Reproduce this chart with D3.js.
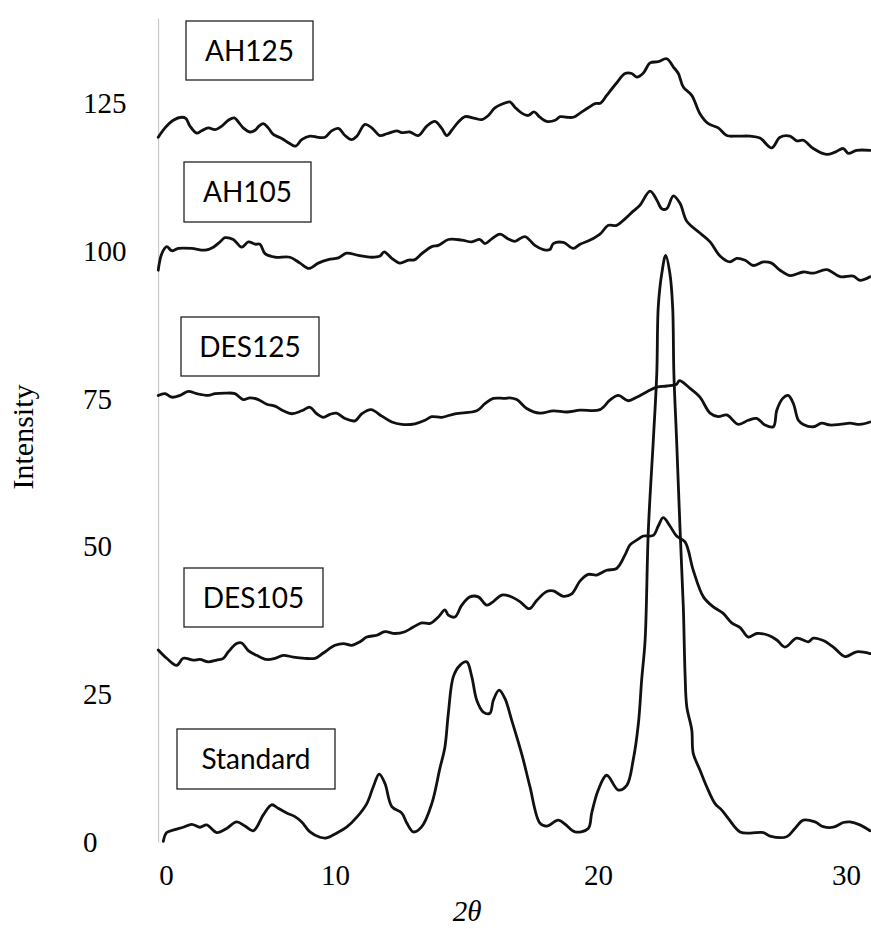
<!DOCTYPE html>
<html>
<head>
<meta charset="utf-8">
<script src="https://cdn.jsdelivr.net/npm/d3@7"></script>
<style>
  html, body { margin: 0; padding: 0; background: #fff; }
  svg { display: block; }
</style>
</head>
<body>
<svg id="chart" width="871" height="929"></svg>
<script>
// X-ray diffractograms, stacked with vertical offsets. Pairs are [2θ, intensity].
const standard = [
  [-0.16,0.1],[0.04,1.6],[0.53,2.1],[1.02,2.5],[1.52,3.0],[2.01,2.5],[2.41,2.9],[3.00,1.6],
  [3.59,2.3],[4.18,3.4],[4.67,2.7],[5.17,1.9],[5.76,4.6],[6.25,6.3],[6.64,5.7],[7.14,4.9],
  [7.63,4.3],[8.03,3.4],[8.52,1.7],[9.11,0.8],[9.51,0.7],[10.06,1.5],[10.44,2.5],[10.83,4.2],
  [11.21,6.5],[11.46,9.4],[11.68,11.5],[11.90,9.9],[12.16,6.0],[12.54,4.9],[12.73,3.2],[12.98,1.7],
  [13.30,2.6],[13.68,6.5],[13.99,12.5],[14.18,16.1],[14.31,21.8],[14.50,28.0],[14.75,29.9],[15.01,30.5],
  [15.20,28.0],[15.39,24.0],[15.64,22.0],[15.89,21.8],[16.02,24.0],[16.24,25.7],[16.46,24.3],[16.72,20.6],
  [16.91,17.8],[17.16,13.9],[17.41,9.4],[17.79,3.2],[18.05,2.7],[18.49,3.7],[18.75,3.0],[19.13,1.7],
  [19.63,2.3],[19.76,4.9],[20.01,8.8],[20.35,11.3],[20.82,8.8],[21.16,9.6],[21.42,13.9],[21.63,20.1],
  [21.76,27.4],[21.90,34.2],[22.03,52.8],[22.23,68.0],[22.37,79.3],[22.43,90.6],[22.57,96.2],[22.73,99.3],
  [22.90,96.2],[23.01,90.6],[23.06,79.3],[23.17,68.0],[23.31,52.8],[23.44,39.8],[23.51,28.5],[23.58,22.9],
  [23.78,19.0],[23.84,15.0],[24.11,12.2],[24.38,9.4],[24.72,6.5],[24.99,5.4],[25.25,4.0],[25.73,1.7],
  [26.13,1.5],[26.67,1.6],[26.94,1.0],[27.61,0.9],[27.94,2.3],[28.28,3.7],[28.75,3.4],[29.08,2.6],
  [29.49,2.5],[29.89,3.3],[30.16,3.4],[30.56,2.9],[30.97,1.9]
];

const des105 = [
  [-0.46,32.5],[0.04,31.1],[0.63,29.9],[1.02,31.1],[1.62,30.8],[2.01,30.9],[2.50,30.5],[3.00,30.8],
  [3.39,31.1],[3.69,32.2],[4.18,33.6],[4.48,33.7],[4.87,32.4],[5.37,31.6],[5.96,30.9],[6.45,31.1],
  [6.94,31.6],[7.53,31.3],[8.22,31.1],[8.82,31.1],[9.31,32.0],[10.00,33.3],[10.32,33.6],[10.63,33.3],
  [10.95,33.9],[11.21,34.7],[11.59,35.0],[11.90,35.6],[12.28,35.3],[12.66,35.6],[12.98,36.4],[13.30,37.1],
  [13.61,37.0],[13.93,38.1],[14.18,39.3],[14.31,38.4],[14.56,38.1],[14.82,40.1],[15.13,41.5],[15.45,41.5],
  [15.77,40.1],[16.02,40.7],[16.34,41.8],[16.65,41.6],[17.03,40.7],[17.39,39.5],[17.67,40.9],[18.05,42.4],
  [18.30,42.5],[18.68,41.6],[19.00,42.0],[19.32,44.2],[19.63,45.3],[19.95,45.2],[20.35,46.0],[20.75,46.3],
  [21.09,48.6],[21.29,50.3],[21.56,51.1],[21.83,51.8],[22.23,51.9],[22.43,53.5],[22.63,54.9],[22.90,53.5],
  [23.17,51.8],[23.51,50.8],[23.84,46.0],[24.25,41.5],[24.65,39.8],[25.05,38.7],[25.39,37.1],[25.73,36.3],
  [26.06,34.7],[26.40,35.3],[26.87,35.0],[27.21,34.2],[27.54,33.0],[28.01,34.5],[28.48,33.9],[28.68,34.5],
  [29.08,34.1],[29.49,33.0],[29.96,31.4],[30.43,32.2],[30.97,31.9]
];

const des125 = [
  [-0.46,75.6],[-0.06,75.9],[0.34,75.3],[0.83,75.6],[1.32,76.3],[1.82,75.9],[2.50,75.6],[2.90,75.9],
  [3.49,76.0],[4.08,75.9],[4.57,74.9],[4.97,75.2],[5.46,74.9],[5.96,74.1],[6.45,73.8],[6.94,73.0],
  [7.44,72.5],[8.03,73.0],[8.52,73.6],[8.92,72.5],[9.31,71.9],[9.70,72.4],[10.06,72.6],[10.38,71.7],
  [10.76,71.3],[11.02,72.5],[11.37,73.2],[11.78,72.1],[12.16,71.1],[12.54,70.7],[13.04,70.8],[13.42,71.4],
  [13.68,72.0],[14.06,71.9],[14.56,72.5],[15.39,73.0],[15.70,74.2],[16.02,75.1],[16.46,75.1],[16.65,75.2],
  [16.91,74.9],[17.29,73.4],[17.79,72.6],[18.30,73.0],[18.81,72.8],[19.32,73.1],[20.08,73.2],[20.48,74.8],
  [20.82,75.6],[21.22,74.7],[21.56,75.3],[21.96,76.2],[22.37,77.0],[22.77,77.2],[23.17,77.5],[23.28,78.1],
  [23.71,76.8],[24.11,75.3],[24.52,72.6],[24.85,72.0],[25.19,72.3],[25.66,70.7],[26.06,71.4],[26.40,71.7],
  [26.73,70.6],[27.07,70.3],[27.21,73.1],[27.45,75.1],[27.67,75.6],[27.88,74.2],[28.08,71.4],[28.28,70.7],
  [28.68,70.3],[29.02,70.9],[29.35,70.6],[29.76,70.7],[30.16,70.9],[30.56,70.7],[30.97,71.1]
];

const ah105 = [
  [-0.46,96.8],[-0.25,99.6],[0.04,100.8],[0.34,100.1],[0.73,100.5],[1.52,100.5],[2.31,100.2],[2.80,100.7],
  [3.20,101.6],[3.49,102.3],[3.98,102.0],[4.48,100.7],[4.87,101.6],[5.27,101.2],[5.56,101.2],[5.86,99.6],
  [6.45,99.0],[7.34,99.0],[7.93,98.0],[8.46,97.1],[9.01,98.0],[9.60,98.6],[10.13,98.9],[10.44,99.7],
  [10.89,99.3],[11.40,99.0],[11.71,99.2],[11.87,99.9],[12.16,98.8],[12.47,98.0],[12.79,98.5],[13.04,98.6],
  [13.30,99.6],[13.68,100.8],[13.93,101.0],[14.31,102.0],[14.82,101.9],[15.20,101.6],[15.51,102.0],[15.70,101.3],
  [15.96,102.1],[16.27,102.9],[16.59,102.1],[16.84,101.7],[17.22,102.5],[17.60,101.0],[17.92,100.3],[18.17,100.3],
  [18.30,101.3],[18.68,101.5],[19.06,100.5],[19.32,101.2],[19.70,101.9],[20.08,102.9],[20.42,104.4],[20.75,104.4],
  [21.09,105.5],[21.42,106.8],[21.69,107.8],[22.10,110.2],[22.37,108.7],[22.57,107.2],[22.77,107.2],[23.04,109.4],
  [23.31,108.1],[23.58,105.1],[24.11,103.1],[24.52,101.6],[24.92,99.2],[25.32,98.2],[25.59,98.8],[25.93,98.5],
  [26.26,97.6],[26.67,98.2],[27.00,98.0],[27.34,96.8],[27.74,95.9],[28.28,96.5],[28.68,96.3],[29.22,96.9],
  [29.76,95.7],[30.29,95.8],[30.56,95.1],[30.97,95.7]
];

const ah125 = [
  [-0.46,119.3],[-0.06,120.9],[0.43,122.2],[0.93,122.7],[1.17,122.5],[1.42,121.2],[1.82,120.0],[2.11,120.4],
  [2.50,120.9],[2.90,120.6],[3.30,121.2],[3.69,122.2],[4.04,122.6],[4.28,121.9],[4.57,120.9],[4.97,120.2],
  [5.27,120.5],[5.50,121.2],[5.76,121.6],[6.05,120.9],[6.35,119.8],[6.85,119.1],[7.34,118.2],[7.67,117.8],
  [8.03,118.9],[8.52,119.5],[9.01,119.3],[9.41,119.3],[9.80,120.4],[10.13,120.8],[10.38,119.6],[10.63,118.9],
  [10.83,119.5],[11.14,121.5],[11.40,120.9],[11.71,119.6],[11.97,119.9],[12.35,120.4],[12.54,120.1],[12.85,120.2],
  [13.17,119.6],[13.49,121.2],[13.80,122.0],[14.06,120.8],[14.25,119.6],[14.44,120.5],[14.69,121.9],[14.94,122.8],
  [15.32,122.5],[15.58,122.3],[15.83,123.0],[16.08,124.3],[16.34,124.9],[16.65,125.3],[16.84,124.4],[17.10,123.4],
  [17.35,123.0],[17.57,123.6],[17.79,122.7],[18.05,122.0],[18.37,122.2],[18.56,122.8],[18.81,122.7],[19.06,122.7],
  [19.32,123.4],[19.63,124.3],[19.89,125.0],[20.11,125.1],[20.35,126.4],[20.75,128.5],[21.09,130.1],[21.36,130.1],
  [21.56,129.5],[21.83,130.2],[22.10,131.9],[22.43,132.1],[22.77,132.6],[23.04,131.2],[23.24,130.1],[23.44,127.8],
  [23.78,126.4],[24.11,123.3],[24.45,121.6],[24.85,120.9],[25.19,119.6],[25.59,119.5],[26.13,119.5],[26.53,119.2],
  [27.00,117.5],[27.34,119.3],[27.74,119.5],[28.01,118.7],[28.28,118.8],[28.68,117.4],[29.22,116.4],[29.56,116.8],
  [29.89,117.4],[30.09,116.6],[30.43,117.1],[30.97,117.1]
];

const seriesList = [standard, des105, des125, ah105, ah125];
const seriesNames = ["Standard", "DES105", "DES125", "AH105", "AH125"];

const xTicks = [0, 10, 20, 30];
const yTicks = [0, 25, 50, 75, 100, 125];

// Label boxes: [left, top, width, height] in px
const boxLayout = [
  [177, 729, 158, 60],
  [184, 568, 139, 59],
  [181, 317, 138, 59],
  [184, 162, 127, 60],
  [186, 21, 127, 59]
];

const svg = d3.select("#chart");

// The printed 2θ ticks are not evenly spaced, so the axis is piecewise linear.
const x = d3.scaleLinear().domain(xTicks).range([166, 335, 598, 846]);
const y = d3.scaleLinear().domain([0, 139.5]).range([842, 18]);
const xStart = -0.47;

// Vertical axis line
const yAxis = d3.axisLeft(y).tickValues(yTicks).tickSize(0).tickPadding(0);
const gy = svg.append("g")
  .attr("transform", `translate(${x(xStart)},0)`)
  .call(yAxis);
gy.select(".domain").attr("stroke", "#c9c9c9").attr("stroke-width", 1.2);
gy.selectAll(".tick text")
  .attr("x", 83 - x(xStart))
  .attr("text-anchor", "start")
  .attr("font-family", "'Liberation Serif', 'Times New Roman', serif")
  .attr("font-size", 29)
  .attr("fill", "#000");

// Horizontal axis labels only
const xAxis = d3.axisBottom(x).tickValues(xTicks).tickSize(0).tickPadding(22);
const gx = svg.append("g")
  .attr("transform", `translate(0,${y(0)})`)
  .call(xAxis);
gx.select(".domain").remove();
gx.selectAll(".tick text")
  .attr("font-family", "'Liberation Serif', 'Times New Roman', serif")
  .attr("font-size", 29)
  .attr("fill", "#000");

// Axis titles
svg.append("text")
  .attr("x", 467).attr("y", 921)
  .attr("text-anchor", "middle")
  .attr("font-family", "'Liberation Serif', 'Times New Roman', serif")
  .attr("font-style", "italic")
  .attr("font-size", 29)
  .text("2θ");

svg.append("text")
  .attr("transform", "translate(33,437) rotate(-90)")
  .attr("text-anchor", "middle")
  .attr("font-family", "'Liberation Serif', 'Times New Roman', serif")
  .attr("font-size", 30)
  .text("Intensity");

// Traces
const line = d3.line()
  .x(d => x(d[0]))
  .y(d => y(d[1]))
  .curve(d3.curveCatmullRom.alpha(0.5));

svg.append("g")
  .selectAll("path")
  .data(seriesList)
  .join("path")
  .attr("d", line)
  .attr("fill", "none")
  .attr("stroke", "#111")
  .attr("stroke-width", 2.8)
  .attr("stroke-linejoin", "round")
  .attr("stroke-linecap", "round");

// Sample name boxes
const labels = svg.append("g")
  .selectAll("g")
  .data(seriesNames.map((name, i) => ({ name, box: boxLayout[i] })))
  .join("g");

labels.append("rect")
  .attr("x", d => d.box[0])
  .attr("y", d => d.box[1])
  .attr("width", d => d.box[2])
  .attr("height", d => d.box[3])
  .attr("fill", "#fff")
  .attr("stroke", "#222")
  .attr("stroke-width", 1.3);

labels.append("text")
  .attr("x", d => d.box[0] + d.box[2] / 2)
  .attr("y", d => d.box[1] + d.box[3] / 2 + 10)
  .attr("text-anchor", "middle")
  .attr("font-family", "Lato, 'Open Sans', sans-serif")
  .attr("font-size", 28)
  .attr("fill", "#000")
  .text(d => d.name);
</script>
</body>
</html>
